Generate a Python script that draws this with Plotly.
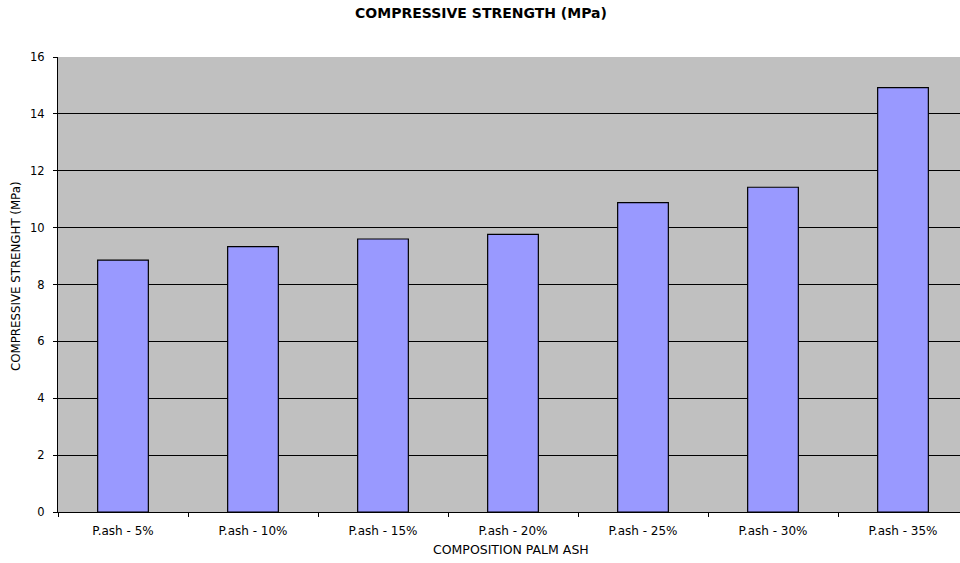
import plotly.graph_objects as go

categories = ["P.ash - 5%", "P.ash - 10%", "P.ash - 15%", "P.ash - 20%",
              "P.ash - 25%", "P.ash - 30%", "P.ash - 35%"]
strength = [8.86, 9.33, 9.60, 9.76, 10.88, 11.42, 14.92]
y_ticks = [0, 2, 4, 6, 8, 10, 12, 14, 16]

font_family = "DejaVu Sans, Liberation Sans, Arial, sans-serif"

W, H = 960, 563
L, R, T, B = 58, 0, 57, 51
plot_w = W - L - R
plot_h = H - T - B

fig = go.Figure(
    go.Bar(
        x=categories,
        y=strength,
        marker=dict(color="#9999FF", line=dict(color="#000000", width=1.2)),
    )
)

fig.update_layout(
    width=W,
    height=H,
    margin=dict(l=L, r=R, t=T, b=B),
    paper_bgcolor="#FFFFFF",
    plot_bgcolor="#C0C0C0",
    bargap=0.61,
    showlegend=False,
    font=dict(family=font_family, color="#000000", size=10),
    title=dict(
        text="<b>COMPRESSIVE STRENGTH (MPa)</b>",
        x=481 / W,
        xanchor="center",
        y=1 - 13 / H,
        yanchor="middle",
        font=dict(family=font_family, size=14, color="#000000"),
    ),
)

fig.update_xaxes(
    type="category",
    range=[-0.5, -0.5 + plot_w / 130],
    tickson="boundaries",
    ticks="outside",
    ticklen=4,
    tickcolor="#000000",
    showline=True,
    linecolor="#000000",
    linewidth=1,
    showgrid=False,
    tickfont=dict(size=12, color="#000000"),
    ticklabelstandoff=8,
)

fig.update_yaxes(
    range=[0, 16],
    tickvals=y_ticks,
    ticks="outside",
    ticklen=4,
    tickcolor="#000000",
    showline=True,
    linecolor="#000000",
    linewidth=1,
    showgrid=True,
    gridcolor="#000000",
    gridwidth=1,
    zeroline=False,
    tickfont=dict(size=11.5, color="#000000"),
    ticklabelstandoff=6,
)

# Axis titles placed as annotations for precise positioning
fig.add_annotation(
    text="COMPOSITION PALM ASH",
    xref="paper", yref="paper",
    x=(511 - L) / plot_w, y=-(549 - (T + plot_h)) / plot_h,
    xanchor="center", yanchor="middle",
    showarrow=False,
    font=dict(family=font_family, size=12.5, color="#000000"),
)
fig.add_annotation(
    text="COMPRESSIVE STRENGHT (MPa)",
    xref="paper", yref="paper",
    x=(16 - L) / plot_w, y=(T + plot_h - 276) / plot_h,
    xanchor="center", yanchor="middle",
    textangle=-90,
    showarrow=False,
    font=dict(family=font_family, size=11.8, color="#000000"),
)

fig.write_html("out.html")
